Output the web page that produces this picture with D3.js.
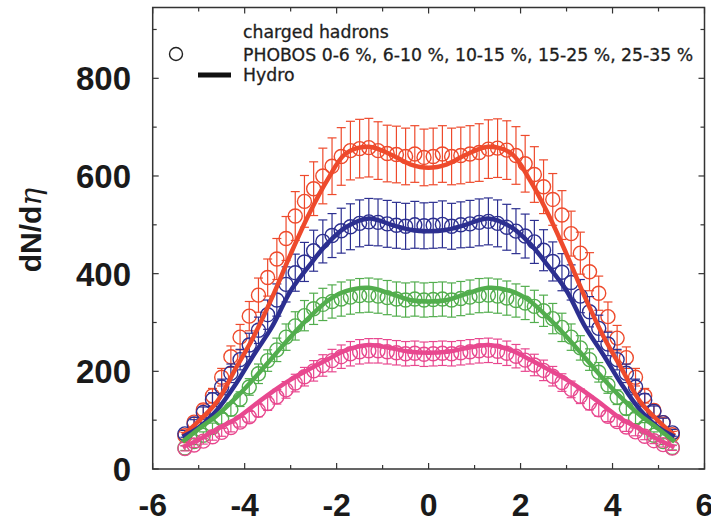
<html>
<head>
  <script src="https://cdn.jsdelivr.net/npm/d3@7"></script>
  <style>
    body { margin: 0; background: #fff; }
    svg { display: block; }
  </style>
</head>
<body>
  <svg id="chart"></svg>

  <script>
    // pseudorapidity bins of the PHOBOS points
    const eta = [-5.3, -5.1, -4.9, -4.7, -4.5, -4.3, -4.1, -3.9, -3.7, -3.5, -3.3, -3.1, -2.9, -2.7, -2.5, -2.3, -2.1, -1.9, -1.7, -1.5, -1.3, -1.1, -0.9, -0.7, -0.5, -0.3, -0.1,
                 0.1, 0.3, 0.5, 0.7, 0.9, 1.1, 1.3, 1.5, 1.7, 1.9, 2.1, 2.3, 2.5, 2.7, 2.9, 3.1, 3.3, 3.5, 3.7, 3.9, 4.1, 4.3, 4.5, 4.7, 4.9, 5.1, 5.3];

    const redData = [68, 96, 121, 150, 188, 230, 270, 313, 356, 392, 430, 472, 518, 548, 574, 600, 620, 640, 652, 656, 658, 652, 646, 644, 640, 645, 638,
                     640, 645, 640, 642, 645, 648, 655, 657, 653, 642, 625, 603, 578, 552, 520, 482, 442, 404, 360, 312, 268, 228, 188, 150, 120, 95, 70];
    const redErr = [7, 10, 12, 15, 18, 22, 26, 30, 35, 38, 42, 45, 50, 53, 55, 57, 58, 59, 60, 60, 60, 59, 58, 58, 58, 58, 58,
                    58, 58, 58, 58, 58, 59, 60, 60, 60, 59, 58, 57, 55, 53, 50, 46, 43, 39, 35, 30, 26, 22, 18, 15, 12, 10, 7];

    const blueData = [72, 92, 116, 142, 168, 196, 224, 254, 284, 316, 346, 378, 402, 424, 447, 466, 478, 488, 496, 503, 506, 505, 502, 499, 497, 500, 498,
                      499, 501, 497, 500, 502, 505, 507, 503, 495, 487, 477, 465, 448, 425, 403, 382, 354, 322, 288, 256, 224, 196, 168, 141, 118, 95, 74];
    const blueErr = [7, 9, 11, 14, 16, 19, 21, 24, 27, 30, 33, 36, 38, 40, 42, 44, 45, 46, 47, 48, 48, 48, 48, 47, 47, 48, 47,
                     47, 48, 47, 47, 48, 48, 48, 48, 47, 46, 45, 44, 42, 40, 38, 36, 34, 31, 27, 24, 21, 19, 16, 13, 11, 9, 7];

    const greenData = [43, 56, 69, 85, 103, 122, 143, 168, 195, 222, 244, 270, 293, 314, 328, 337, 343, 348, 352, 355, 356, 354, 351, 348, 346, 348, 346,
                       347, 348, 346, 349, 352, 355, 356, 354, 350, 345, 340, 333, 324, 308, 290, 270, 248, 224, 198, 172, 147, 124, 104, 86, 69, 56, 44];
    const greenErr = [5, 6, 7, 9, 11, 13, 15, 17, 20, 22, 24, 27, 29, 31, 32, 33, 34, 35, 35, 35, 35, 35, 35, 35, 35, 35, 35,
                      35, 35, 35, 35, 35, 35, 35, 35, 35, 34, 34, 33, 32, 31, 29, 27, 25, 22, 20, 17, 15, 13, 11, 9, 7, 6, 5];

    const pinkData = [42, 49, 57, 66, 75, 85, 96, 107, 120, 134, 148, 162, 176, 189, 201, 212, 222, 230, 236, 240, 242, 242, 240, 238, 236, 237, 235,
                      236, 237, 236, 238, 240, 242, 243, 241, 237, 231, 223, 213, 202, 190, 177, 163, 149, 135, 121, 108, 97, 86, 76, 67, 58, 50, 43];
    const pinkErr = [5, 5, 6, 7, 8, 9, 10, 11, 13, 14, 15, 17, 18, 19, 21, 22, 23, 24, 25, 25, 25, 25, 25, 25, 25, 25, 25,
                     25, 25, 25, 25, 25, 25, 25, 25, 25, 24, 23, 22, 21, 20, 18, 17, 15, 14, 13, 11, 10, 9, 8, 7, 6, 5, 5];

    // hydro curves
    const hydroEta = [-5.35, -5.0, -4.6, -4.2, -3.8, -3.4, -3.0, -2.6, -2.2, -1.8, -1.3, -0.8, -0.4, 0, 0.4, 0.8, 1.3, 1.8, 2.2, 2.6, 3.0, 3.4, 3.8, 4.2, 4.6, 5.0, 5.35];
    const redHydro = [68, 98, 138, 205, 272, 352, 440, 522, 592, 646, 660, 643, 624, 617, 624, 643, 660, 646, 592, 522, 440, 352, 272, 205, 138, 98, 68];
    const blueHydro = [66, 85, 121, 173, 234, 292, 365, 416, 462, 495, 513, 500, 490, 487, 490, 500, 513, 495, 462, 416, 365, 292, 234, 173, 121, 85, 66];
    const greenHydro = [56, 82, 110, 145, 185, 228, 271, 310, 344, 364, 371, 358, 346, 343, 346, 358, 371, 364, 344, 310, 271, 228, 185, 145, 110, 82, 56];
    const pinkHydro = [45, 60, 82, 102, 130, 158, 183, 204, 224, 243, 254, 247, 240, 238, 240, 247, 254, 243, 224, 204, 183, 158, 130, 102, 82, 60, 45];

    const xTicks = [-6, -4, -2, 0, 2, 4, 6];
    const yTicks = [0, 200, 400, 600, 800];

    const series = [
      { data: redData, err: redErr, hydro: redHydro, color: '#ee4a2c' },
      { data: blueData, err: blueErr, hydro: blueHydro, color: '#2c2f90' },
      { data: greenData, err: greenErr, hydro: greenHydro, color: '#52ad4d' },
      { data: pinkData, err: pinkErr, hydro: pinkHydro, color: '#e8488f' }
    ];

    const width = 711, height = 517;
    const mLeft = 152.7, mRight = 704.5, mTop = 7.5, mBottom = 469;

    const svg = d3.select('#chart').attr('width', width).attr('height', height);

    const x = d3.scaleLinear().domain([-6, 6]).range([mLeft, mRight]);
    const y = d3.scaleLinear().domain([0, 945]).range([mBottom, mTop]);

    const plot = svg.append('g');

    // data points with error bars
    series.forEach(s => {
      const g = plot.append('g').attr('stroke', s.color).attr('fill', 'none');
      eta.forEach((e, i) => {
        const cx = x(e), v = s.data[i], er = s.err[i];
        g.append('line').attr('x1', cx).attr('x2', cx).attr('y1', y(v - er)).attr('y2', y(v + er)).attr('stroke-width', 1.2);
        g.append('line').attr('x1', cx - 4.5).attr('x2', cx + 4.5).attr('y1', y(v + er)).attr('y2', y(v + er)).attr('stroke-width', 1.2);
        g.append('line').attr('x1', cx - 4.5).attr('x2', cx + 4.5).attr('y1', y(v - er)).attr('y2', y(v - er)).attr('stroke-width', 1.2);
        g.append('circle').attr('cx', cx).attr('cy', y(v)).attr('r', 7).attr('stroke-width', 1.4);
      });
    });

    // hydro lines
    const line = d3.line().x((d, i) => x(hydroEta[i])).y(d => y(d)).curve(d3.curveCatmullRom);
    series.forEach(s => {
      plot.append('path').attr('d', line(s.hydro)).attr('fill', 'none')
        .attr('stroke', s.color).attr('stroke-width', 4.5);
    });

    // frame
    svg.append('rect').attr('x', mLeft).attr('y', mTop).attr('width', mRight - mLeft).attr('height', mBottom - mTop)
      .attr('fill', 'none').attr('stroke', '#333').attr('stroke-width', 1.5);

    // ticks on all four sides, pointing inwards
    const axes = svg.append('g').attr('stroke', '#333').attr('stroke-width', 1.2);
    d3.range(-6, 6.01, 1).forEach(t => {
      const len = (t % 2 === 0) ? 6 : 4;
      axes.append('line').attr('x1', x(t)).attr('x2', x(t)).attr('y1', mBottom).attr('y2', mBottom - len);
      axes.append('line').attr('x1', x(t)).attr('x2', x(t)).attr('y1', mTop).attr('y2', mTop + len);
    });
    d3.range(0, 945, 100).forEach(t => {
      const len = (t % 200 === 0) ? 6 : 4;
      axes.append('line').attr('x1', mLeft).attr('x2', mLeft + len).attr('y1', y(t)).attr('y2', y(t));
      axes.append('line').attr('x1', mRight).attr('x2', mRight - len).attr('y1', y(t)).attr('y2', y(t));
    });

    const labelFont = '"Liberation Sans", Arial, sans-serif';
    svg.append('g').selectAll('text').data(yTicks).enter().append('text')
      .attr('x', 131).attr('y', d => y(d) + 12)
      .attr('text-anchor', 'end').attr('font-family', labelFont).attr('font-weight', 'bold')
      .attr('font-size', 33).attr('fill', '#1a1a1a').text(d => d);

    svg.append('g').selectAll('text').data(xTicks).enter().append('text')
      .attr('x', d => x(d)).attr('y', 516)
      .attr('text-anchor', 'middle').attr('font-family', labelFont).attr('font-weight', 'bold')
      .attr('font-size', 32).attr('fill', '#1a1a1a').text(d => d);

    const yLab = svg.append('text').attr('transform', 'translate(41,230) rotate(-90)')
      .attr('text-anchor', 'middle').attr('font-family', labelFont).attr('font-weight', 'bold')
      .attr('font-size', 30).attr('fill', '#1a1a1a');
    yLab.append('tspan').text('dN/d');
    yLab.append('tspan').attr('font-family', '"DejaVu Serif", serif').attr('font-style', 'italic')
      .attr('font-weight', 'normal').text('η');

    // legend
    const legFont = '"DejaVu Sans", sans-serif';
    const leg = svg.append('g').attr('font-family', legFont).attr('fill', '#1e1e1e').attr('font-size', 17.3)
      .attr('stroke', '#1e1e1e').attr('stroke-width', 0.3);
    leg.append('text').attr('x', 243).attr('y', 38).text('charged hadrons');
    leg.append('text').attr('x', 243).attr('y', 61).text('PHOBOS 0-6 %, 6-10 %, 10-15 %, 15-25 %, 25-35 %');
    leg.append('text').attr('x', 243).attr('y', 81).text('Hydro');
    leg.append('circle').attr('cx', 176).attr('cy', 54).attr('r', 6.5).attr('fill', 'none').attr('stroke', '#222').attr('stroke-width', 1.4);
    leg.append('line').attr('x1', 198).attr('x2', 231).attr('y1', 75).attr('y2', 75).attr('stroke', '#111').attr('stroke-width', 5);
  </script>
</body>
</html>
